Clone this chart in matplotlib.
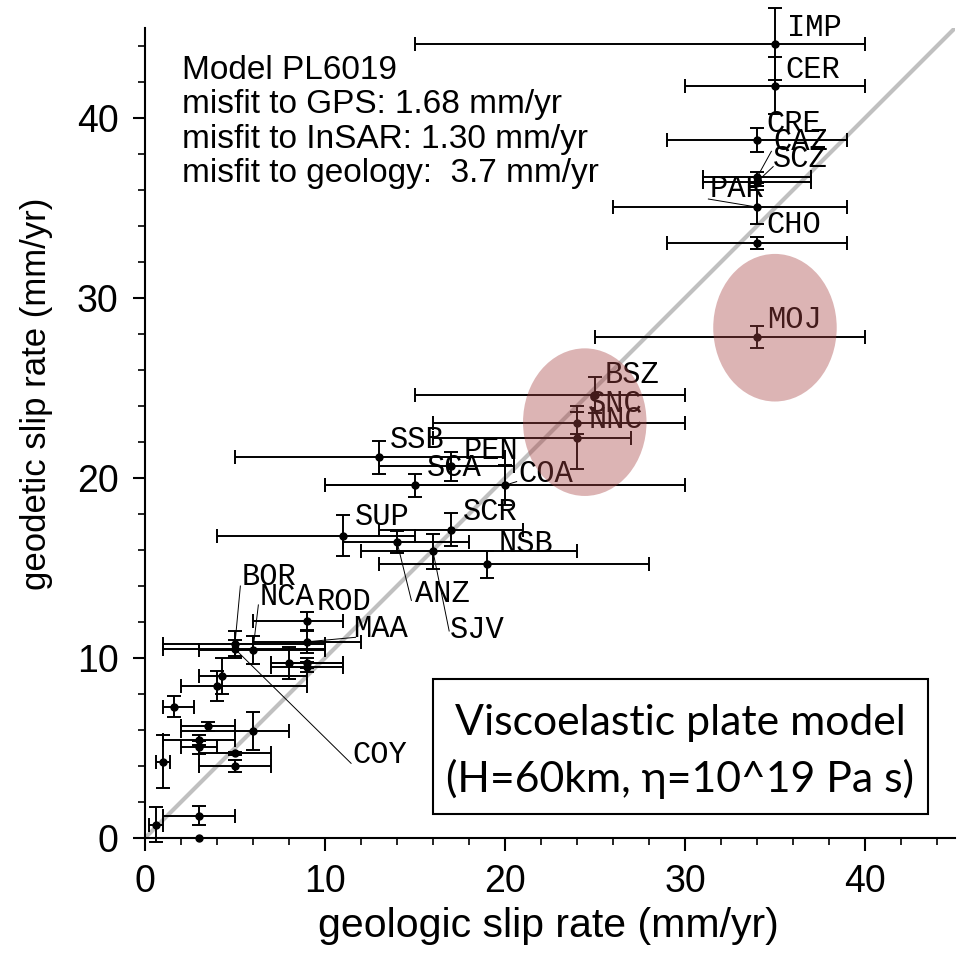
import numpy as np
import matplotlib
matplotlib.use("Agg")
import matplotlib.pyplot as plt
from matplotlib.patches import Ellipse, Rectangle

# fault segments: geologic rate (with range) vs geodetic rate (with 1-sigma)
names = ['', '', '', '', '', '', '', '', '', '', '', '', '', '', '', '',
         'BOR', 'NCA', 'MAA', 'ROD', 'COY',
         'SUP', 'ANZ', 'SCR', 'SJV', 'NSB',
         'SSB', 'PEN', 'SCA', 'COA',
         'BSZ', 'SNC', 'NNC',
         'MOJ', 'CHO', 'PAR', 'SCZ', 'CAZ', 'CRE', 'CER', 'IMP']
geo_rate = [0.6, 3.0, 3.0, 1.0, 5.0, 5.0, 3.0, 3.0, 6.0, 3.5, 1.6, 4.0, 4.3, 8.0, 9.0, 9.0,
            5.0, 6.0, 9.0, 9.0, 5.0,
            11.0, 14.0, 17.0, 16.0, 19.0,
            13.0, 17.0, 15.0, 20.0,
            25.0, 24.0, 24.0,
            34.0, 34.0, 34.0, 34.0, 34.0, 34.0, 35.0, 35.0]
geo_lo = [0.2, 1.0, np.nan, 0.6, 3.0, 3.0, 2.0, 1.0, 2.0, 2.0, 1.0, 2.0, 3.0, 7.0, 7.0, 7.0,
          1.0, 3.0, 6.0, 6.0, 1.0,
          4.0, 11.0, 13.0, 12.0, 13.0,
          5.0, 13.0, 10.0, 10.0,
          15.0, 16.0, 16.0,
          25.0, 29.0, 26.0, 31.0, 31.0, 29.0, 30.0, 15.0]
geo_hi = [1.0, 5.0, np.nan, 1.4, 7.0, 7.0, 4.0, 5.0, 8.0, 5.0, 2.7, 9.0, 9.0, 11.0, 11.0, 11.0,
          10.0, 10.0, 12.0, 11.0, 10.0,
          15.0, 18.0, 21.0, 24.0, 28.0,
          20.0, 20.5, 20.0, 30.0,
          30.0, 30.0, 27.0,
          40.0, 39.0, 39.0, 37.0, 37.0, 39.0, 40.0, 40.0]
gps_rate = [0.75, 1.25, 0.0, 4.25, 4.0, 4.7, 5.03, 5.44, 5.94, 6.22, 7.3, 8.45, 9.0, 9.72, 9.72, 9.5,
            10.8, 10.45, 10.9, 12.07, 10.5,
            16.8, 16.45, 17.13, 15.92, 15.22,
            21.14, 20.64, 19.6, 19.6,
            24.6, 23.06, 22.25,
            27.85, 33.06, 35.05, 36.45, 36.7, 38.77, 41.8, 44.1]
gps_err = [0.95, 0.55, np.nan, 1.47, 0.33, 0.1, 0.35, 0.27, 1.05, 0.25, 0.58, 0.85, 1.0, 0.87, 0.3, 0.3,
           0.7, 0.8, 0.6, 0.5, 0.5,
           1.15, 0.6, 0.93, 0.97, 0.75,
           0.9, 0.8, 0.65, 1.1,
           1.0, 0.6, 1.75,
           0.6, 0.35, 0.95, 0.25, 0.3, 0.65, 1.6, 2.0]

# where each name is written, and where its leader line starts
label_xy = {'IMP': (35.65, 44.56), 'CER': (35.56, 42.2), 'CRE': (34.54, 39.24),
            'CAZ': (34.9, 38.2), 'SCZ': (34.9, 37.26), 'PAR': (31.39, 35.59),
            'CHO': (34.54, 33.59), 'MOJ': (34.54, 28.32), 'BSZ': (25.56, 25.26),
            'SNC': (24.63, 23.68), 'NNC': (24.63, 22.76), 'SSB': (13.61, 21.65),
            'PEN': (17.68, 21.04), 'SCA': (15.65, 20.11), 'COA': (20.74, 19.8),
            'SCR': (17.68, 17.67), 'SUP': (11.67, 17.39), 'NSB': (19.63, 15.9),
            'ANZ': (15.0, 13.13), 'SJV': (16.94, 11.09), 'BOR': (5.37, 14.06),
            'NCA': (6.35, 12.94), 'ROD': (9.54, 12.67), 'MAA': (11.57, 11.18),
            'COY': (11.54, 4.15)}
leader_from = {'BOR': (5.3, 14.0), 'NCA': (6.3, 12.95), 'MAA': (11.7, 11.15),
               'COY': (11.45, 4.15), 'ANZ': (14.8, 13.2), 'SJV': (16.9, 11.5),
               'COA': (20.65, 19.8), 'CAZ': (34.8, 38.15), 'SCZ': (34.9, 37.3),
               'PAR': (31.3, 35.5)}

highlights = [(['BSZ', 'SNC', 'NNC'], (0.1, -0.2)), (['MOJ'], (1.0, 0.5))]

info = ("Model PL6019\nmisfit to GPS: 1.68 mm/yr\n"
        "misfit to InSAR: 1.30 mm/yr\nmisfit to geology:  3.7 mm/yr")
model_box = ["Viscoelastic plate model", "(H=60km, \u03b7=10^19 Pa s)"]

plt.rcParams['font.family'] = ['Liberation Sans', 'DejaVu Sans']

geo_rate = np.array(geo_rate)
gps_rate = np.array(gps_rate)
xerr = np.array([geo_rate - np.array(geo_lo), np.array(geo_hi) - geo_rate])

fig = plt.figure(figsize=(9.62, 9.63), dpi=100)
ax = fig.add_axes([0.1507, 0.1298, 0.842, 0.8411])
ax.set_xlim(0, 45)
ax.set_ylim(0, 45)

lim = ax.get_xlim()
ax.plot(lim, lim, color='#c0c0c0', lw=3, zorder=1, solid_capstyle='butt')

eb = ax.errorbar(geo_rate, gps_rate, xerr=xerr, yerr=gps_err, fmt='o', color='black',
                 ms=5, elinewidth=1.4, capsize=4.7, capthick=1.4, zorder=3)
eb.lines[0].set_clip_on(False)
for a in list(eb.lines[1]) + list(eb.lines[2]):
    a.set_clip_on(False)

for nm, (tx, ty) in label_xy.items():
    i = names.index(nm)
    ax.text(tx, ty, nm, family='Liberation Mono', fontsize=22, ha='left',
            va='baseline', zorder=4)
    if nm in leader_from:
        sx, sy = leader_from[nm]
        ax.plot([sx, geo_rate[i]], [sy, gps_rate[i]], color='black', lw=0.7, zorder=4)

for group, (dx, dy) in highlights:
    idx = [names.index(n) for n in group]
    cx = geo_rate[idx].mean() + dx
    cy = gps_rate[idx].mean() + dy
    ax.add_patch(Ellipse((cx, cy), 6.86, 8.2, facecolor='#a84444', alpha=0.4,
                         edgecolor='none', zorder=5))

ax.text(2.06, 43.5, info, fontsize=24, ha='left', va='top', linespacing=1.14)

ax.add_patch(Rectangle((16.0, 1.33), 27.5, 7.5, facecolor='white', edgecolor='black',
                       lw=1.5, zorder=6))
ax.text(29.75, 5.72, model_box[0], family='Lato', fontsize=30.8, ha='center',
        va='baseline', zorder=7)
ax.text(29.75, 2.57, model_box[1], family='Lato', fontsize=30.8, ha='center',
        va='baseline', zorder=7)

for s in ['top', 'right']:
    ax.spines[s].set_visible(False)
for s in ['left', 'bottom']:
    ax.spines[s].set_linewidth(1.5)

ax.set_xticks(np.arange(0, 41, 10))
ax.set_yticks(np.arange(0, 41, 10))
ax.set_xticks(np.arange(0, 45.1, 2), minor=True)
ax.set_yticks(np.arange(0, 45.1, 2), minor=True)
ax.tick_params(which='major', direction='out', length=9, width=1.5, labelsize=27, pad=10)
ax.tick_params(which='minor', direction='out', length=4.8, width=1.2)

ax.set_xlabel("geologic slip rate (mm/yr)", fontsize=29.5, va='top')
ax.set_ylabel("geodetic slip rate (mm/yr)", fontsize=25)
ax.xaxis.set_label_coords(0.4975, -0.085)
ax.yaxis.set_label_coords(-0.114, 0.548)

fig.savefig("out.png", dpi=100)
